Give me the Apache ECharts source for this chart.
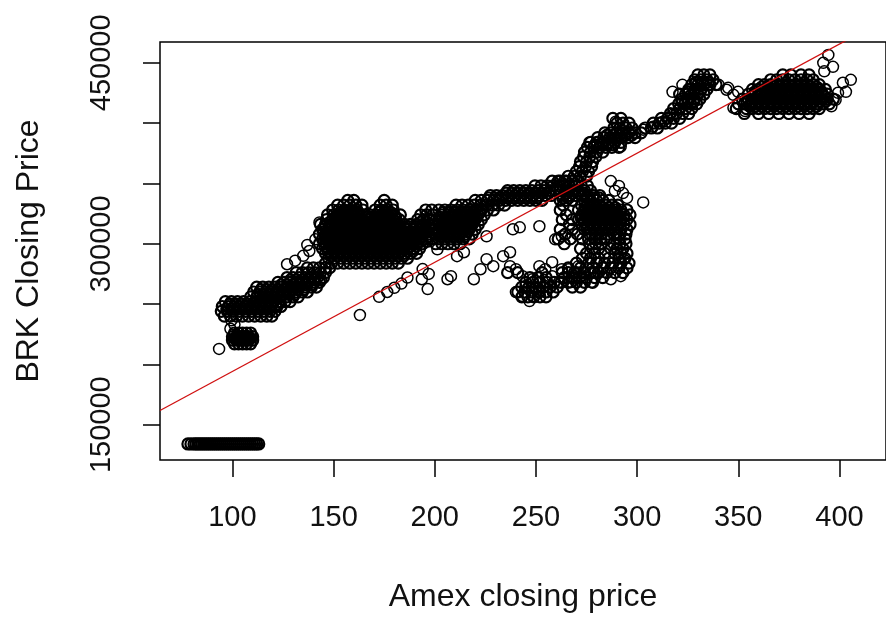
<!DOCTYPE html>
<html>
<head>
<meta charset="utf-8">
<script src="https://cdn.jsdelivr.net/npm/echarts@6/dist/echarts.min.js"></script>
<style>
html,body{margin:0;padding:0;background:#fff;}
#chart{width:886px;height:618px;}
</style>
</head>
<body>
<div id="chart"></div>
<script>
// ---- DATA (Amex closing price vs BRK closing price) ----
// rows: [BRK price, Amex price, Amex price, ...]
const bottomRows = [
  [134000, 78, 79.5, 81, 82, 83, 84, 85, 86, 87, 88, 89, 90, 91, 92, 93, 94, 95, 96, 97, 98, 99, 100, 101, 102, 103, 104, 105, 106, 107, 108, 109, 110, 111, 112, 113]
];
const lowClusterRows = [
  [226000, 101, 103, 105, 107, 109],
  [223000, 100, 102, 104, 106, 108, 110],
  [221500, 101, 103, 105, 107, 109],
  [220000, 100, 102, 104, 106, 108, 110],
  [217000, 101, 103, 105, 107, 109]
];
const earlyBandRows = [
  [240000, 96, 99, 102, 105, 108, 111, 114, 117, 119.5],
  [244000, 94.5, 97.5, 100.5, 103.5, 106.5, 109.5, 112.5, 115.5, 118.5, 121],
  [246000, 97.2, 100.2, 103.2, 106.2, 109.2, 112.2, 115.2, 118.2],
  [248000, 95, 98, 101, 104, 107, 110, 113, 116, 119, 122, 124],
  [250000, 98.7, 101.7, 104.7, 107.7, 110.7, 113.7, 116.7, 119.7, 122.7],
  [252000, 96.5, 99.5, 102.5, 105.5, 108.5, 111.5, 114.5, 117.5, 120.5, 123.5, 126, 128.5],
  [256000, 109, 112, 115, 118, 121, 124, 127, 130, 132.5],
  [258000, 112.7, 115.7, 118.7, 121.7, 124.7, 127.7, 130.7],
  [260000, 110.5, 113.5, 116.5, 119.5, 122.5, 125.5, 128.5, 131.5, 134.5, 137],
  [262000, 114.2, 117.2, 120.2, 123.2, 126.2, 129.2, 132.2, 135.2],
  [264000, 112, 115, 118, 121, 124, 127, 130, 133, 136, 139, 141.5],
  [266000, 124.2, 127.2, 130.2, 133.2, 136.2, 139.2],
  [268000, 122.5, 125.5, 128.5, 131.5, 134.5, 137.5, 140.5, 143],
  [270000, 128.7, 131.7, 134.7, 137.7, 140.7, 143.7],
  [272000, 127, 130, 133, 136, 139, 142, 145],
  [276000, 131.5, 134.5, 137.5, 140.5, 143.5, 146],
  [280000, 137, 140, 143, 146, 148]
];
const mainBlobRows = [
  [284000, 146, 149, 152, 155, 158, 161, 164, 167, 170, 173, 176, 179, 182],
  [288000, 147.5, 150.5, 153.5, 156.5, 159.5, 162.5, 165.5, 168.5, 171.5, 174.5, 177.5, 180.5, 183.5, 186.5],
  [290000, 148.7, 151.7, 154.7, 157.7, 160.7, 163.7, 166.7, 169.7, 172.7, 175.7, 178.7, 181.7, 184.7],
  [292000, 146, 149, 152, 155, 158, 161, 164, 167, 170, 173, 176, 179, 182, 185, 188, 191],
  [294000, 147.2, 150.2, 153.2, 156.2, 159.2, 162.2, 165.2, 168.2, 171.2, 174.2, 177.2, 180.2, 183.2, 186.2, 189.2],
  [296000, 144.5, 147.5, 150.5, 153.5, 156.5, 159.5, 162.5, 165.5, 168.5, 171.5, 174.5, 177.5, 180.5, 183.5, 186.5, 189.5, 192.5],
  [298000, 145.7, 148.7, 151.7, 154.7, 157.7, 160.7, 163.7, 166.7, 169.7, 172.7, 175.7, 178.7, 181.7, 184.7, 187.7, 190.7],
  [300000, 143, 146, 149, 152, 155, 158, 161, 164, 167, 170, 173, 176, 179, 182, 185, 188, 191, 194],
  [302000, 145.2, 148.2, 151.2, 154.2, 157.2, 160.2, 163.2, 166.2, 169.2, 172.2, 175.2, 178.2, 181.2, 184.2, 187.2, 190.2, 193.2, 196.2],
  [304000, 144.5, 147.5, 150.5, 153.5, 156.5, 159.5, 162.5, 165.5, 168.5, 171.5, 174.5, 177.5, 180.5, 183.5, 186.5, 189.5, 192.5, 195.5, 198.5],
  [306000, 145.7, 148.7, 151.7, 154.7, 157.7, 160.7, 163.7, 166.7, 169.7, 172.7, 175.7, 178.7, 181.7, 184.7, 187.7, 190.7, 193.7, 196.7],
  [308000, 143, 146, 149, 152, 155, 158, 161, 164, 167, 170, 173, 176, 179, 182, 185, 188, 191, 194, 197, 200],
  [310000, 145.2, 148.2, 151.2, 154.2, 157.2, 160.2, 163.2, 166.2, 169.2, 172.2, 175.2, 178.2, 181.2, 184.2, 187.2, 190.2, 193.2, 196.2],
  [312000, 144.5, 147.5, 150.5, 153.5, 156.5, 159.5, 162.5, 165.5, 168.5, 171.5, 174.5, 177.5, 180.5, 183.5, 186.5, 189.5, 192.5, 195.5, 198.5],
  [314000, 145.7, 148.7, 151.7, 154.7, 157.7, 160.7, 163.7, 166.7, 169.7, 172.7, 175.7, 178.7, 181.7, 184.7, 187.7, 190.7, 193.7, 196.7],
  [316000, 143.5, 146, 149, 152, 155, 158, 161, 164, 167, 170, 173, 176, 179, 182, 185, 188, 191, 194, 197, 200],
  [318000, 148.2, 151.2, 154.2, 157.2, 160.2, 163.2, 166.2, 169.2, 172.2, 175.2, 178.2, 181.2, 193.2, 196.2],
  [320000, 146.5, 149.5, 152.5, 155.5, 158.5, 161.5, 164.5, 167.5, 170.5, 173.5, 176.5, 179.5, 182.5, 191.5, 194.5, 197.5],
  [322000, 150.7, 153.7, 156.7, 159.7, 162.7, 165.7, 168.7, 171.7, 174.7, 177.7, 180.7],
  [324000, 147, 150, 153, 156, 159, 162, 165, 168, 171, 174, 177, 180, 183, 193, 196, 199],
  [326000, 153.2, 156.2, 159.2, 162.2, 172.2, 175.2, 178.2],
  [328000, 149.5, 152.5, 155.5, 158.5, 161.5, 164.5, 170.5, 173.5, 176.5, 179.5, 195.5, 198.5],
  [332000, 152, 155, 158, 161, 164, 173, 176, 179],
  [336000, 157, 160, 175]
];
const midBandRows = [
  [300000, 200.5, 203.5, 206.5, 209.5, 212.5],
  [304000, 199, 202, 205, 208, 211, 214, 217],
  [306000, 202.7, 205.7, 208.7, 211.7, 214.7],
  [308000, 200.5, 203.5, 206.5, 209.5, 212.5, 215.5, 218.5],
  [310000, 201.2, 204.2, 207.2, 210.2, 213.2, 216.2],
  [312000, 202, 205, 208, 211, 214, 217, 220],
  [314000, 202.7, 205.7, 208.7, 211.7, 214.7, 217.7],
  [316000, 203.5, 206.5, 209.5, 212.5, 215.5, 218.5, 221.5],
  [318000, 204.2, 207.2, 210.2, 213.2, 216.2, 219.2],
  [320000, 202, 205, 208, 211, 214, 217, 220, 223],
  [322000, 202.7, 205.7, 208.7, 211.7, 214.7, 217.7, 220.7],
  [324000, 203.5, 206.5, 209.5, 212.5, 215.5, 218.5, 221.5, 224.5],
  [326000, 204.2, 207.2, 210.2, 213.2, 216.2, 219.2, 222.2],
  [328000, 202, 205, 208, 211, 214, 217, 220, 223, 226, 229],
  [332000, 210.5, 213.5, 216.5, 219.5, 222.5, 225.5, 228.5, 231.5, 234.5],
  [336000, 220, 223, 226, 229, 232, 235, 238, 241, 244, 247, 250, 253],
  [338000, 226.7, 229.7, 232.7, 235.7, 238.7, 241.7, 244.7, 247.7, 250.7],
  [340000, 227.5, 230.5, 233.5, 236.5, 239.5, 242.5, 245.5, 248.5, 251.5, 254.5, 257.5],
  [342000, 235.2, 238.2, 241.2, 244.2, 247.2, 250.2, 253.2, 256.2],
  [344000, 236, 239, 242, 245, 248, 251, 254, 257, 260],
  [348000, 249.5, 252.5, 255.5, 258.5, 261.5],
  [352000, 258, 261, 264]
];
const lowerClusterRows = [
  [256000, 243, 246, 249, 252, 255],
  [260000, 241, 244.5, 248, 251.5, 255, 258.5],
  [264000, 243, 246.5, 250, 253.5, 257, 260.5, 268, 272],
  [268000, 245, 248.5, 252, 255.5, 259, 262.5, 266, 270, 274, 278],
  [272000, 247, 251, 255, 264, 268, 271.5, 275, 279, 283],
  [276000, 236, 241, 253, 266, 270, 273.5, 277, 281]
];
const rightClusterRows = [
  [356000, 266, 269, 272, 275],
  [352000, 262, 265, 268, 271],
  [348000, 263.5, 266.5, 269.5, 272.5, 275.5],
  [344000, 262, 265, 268, 271, 274, 277],
  [342000, 264.7, 267.7, 270.7, 273.7],
  [340000, 263.5, 266.5, 269.5, 272.5, 275.5, 278.5, 281.5],
  [338000, 263.2, 266.2, 275.2, 278.2, 281.2],
  [336000, 262, 265, 268, 274, 277, 280, 283, 286],
  [332000, 263.5, 272.5, 275.5, 278.5, 281.5, 284.5, 287.5, 290.5],
  [330000, 274.2, 277.2, 280.2, 283.2, 286.2, 289.2],
  [328000, 262, 271, 274, 277, 280, 283, 286, 289, 292, 295],
  [326000, 273.7, 276.7, 279.7, 282.7, 285.7, 288.7, 291.7],
  [324000, 265, 272.5, 275.5, 278.5, 281.5, 284.5, 287.5, 290.5, 293.5, 296.5],
  [322000, 272.2, 275.2, 278.2, 281.2, 284.2, 287.2, 290.2, 293.2],
  [320000, 263, 268, 271, 274, 277, 280, 283, 286, 289, 292, 295],
  [318000, 273.7, 276.7, 279.7, 282.7, 285.7, 288.7, 291.7],
  [316000, 266.5, 272.5, 275.5, 278.5, 281.5, 284.5, 287.5, 290.5, 293.5, 296.5],
  [314000, 275.2, 278.2, 281.2, 284.2, 287.2, 290.2],
  [312000, 262, 268, 274, 277, 280, 283, 286, 289, 292, 295],
  [308000, 264.5, 270.5, 276.5, 279.5, 282.5, 285.5, 288.5, 291.5, 294.5],
  [304000, 261, 267, 273, 276, 279, 282, 285, 291, 294],
  [300000, 264, 276.5, 279.5, 282.5, 288.5, 291.5, 294.5],
  [296000, 272, 278, 281, 287, 290, 293],
  [292000, 275, 279, 284, 289, 292, 295],
  [288000, 273, 277, 281, 286, 291, 294],
  [284000, 270, 276, 280, 284, 288, 292, 296],
  [280000, 266, 272, 278, 283, 287, 291, 295],
  [276000, 263, 269, 274, 279, 285, 289, 293]
];
const riseRows = [
  [360000, 270, 273, 276],
  [364000, 271.5, 274.5, 277.5],
  [368000, 272, 275, 278],
  [372000, 273.5, 276.5, 279.5],
  [376000, 274, 277, 280, 283],
  [380000, 275.5, 278.5, 281.5, 284.5, 287.5, 291],
  [382000, 279.2, 282.2, 285.2, 288.2],
  [384000, 277, 280, 283, 286, 289, 292],
  [388000, 280.5, 283.5, 286.5, 289.5, 292.5, 295.5, 299],
  [390000, 285.2, 288.2, 291.2, 294.2, 297.2],
  [392000, 284, 287, 290, 293, 296, 299, 302],
  [396000, 288.5, 291.5, 294.5, 297.5, 304, 307, 310],
  [400000, 290, 293, 296, 308, 311, 314, 317],
  [404000, 288, 292, 312, 315, 318, 321],
  [408000, 316.5, 319.5, 322.5, 325.5],
  [412000, 318, 321, 324, 327],
  [416000, 320.5, 323.5, 326.5, 329.5],
  [418000, 322.2, 325.2, 328.2],
  [420000, 322, 325, 328, 331],
  [424000, 321, 324, 327, 330, 333],
  [426000, 325.2, 328.2, 331.2],
  [428000, 325.5, 328.5, 331.5, 334.5],
  [432000, 327, 330, 333, 336, 339],
  [434000, 329.2, 332.2, 335.2],
  [436000, 328.5, 331.5, 334.5, 337.5],
  [440000, 330, 333, 336]
];
const topBlobRows = [
  [440000, 372, 376, 381, 385],
  [436000, 366, 369, 372, 375, 378, 381, 384, 387],
  [432000, 360, 363, 366, 369, 372, 375, 378, 381, 384, 387, 390],
  [430000, 361.7, 364.7, 367.7, 370.7, 373.7, 376.7, 379.7, 382.7, 385.7, 388.7],
  [428000, 357, 360, 363, 366, 369, 372, 375, 378, 381, 384, 387, 390, 393],
  [426000, 358.2, 361.2, 364.2, 367.2, 370.2, 373.2, 376.2, 379.2, 382.2, 385.2, 388.2, 391.2],
  [424000, 355, 358, 361, 364, 367, 370, 373, 376, 379, 382, 385, 388, 391, 394],
  [422000, 356.7, 359.7, 362.7, 365.7, 368.7, 371.7, 374.7, 377.7, 380.7, 383.7, 386.7, 389.7, 392.7],
  [420000, 352, 355, 358, 361, 364, 367, 370, 373, 376, 379, 382, 385, 388, 391, 394, 397],
  [418000, 354.2, 357.2, 360.2, 363.2, 366.2, 369.2, 372.2, 375.2, 378.2, 381.2, 384.2, 387.2, 390.2, 393.2],
  [416000, 350, 353, 356, 359, 362, 365, 368, 371, 374, 377, 380, 383, 386, 389, 392, 395],
  [414000, 355.7, 358.7, 361.7, 364.7, 367.7, 370.7, 373.7, 376.7, 379.7, 382.7, 385.7, 388.7],
  [412000, 349, 354, 357, 360, 363, 366, 369, 372, 375, 378, 381, 384, 387, 390],
  [408000, 353, 360, 365, 370, 375, 380, 385]
];
// loose single observations: [Amex, BRK]
const loosePoints = [
  [93.4, 212800], [99, 229500], [101, 233000], [99.5, 236500],
  [127, 283000], [131, 286000], [135, 290000], [138, 294000], [137, 299000], [141, 303700], [143, 317700],
  [163, 240900], [172.5, 256000], [176.5, 260000], [180, 263500], [183.5, 267000], [186.5, 272000],
  [193.6, 270600], [196.5, 262400], [194, 279000], [197, 275000], [201.3, 295400],
  [206.3, 270600], [208, 273100], [211, 289700], [214.4, 293000], [225.6, 306200], [225.6, 287200],
  [222.6, 278900], [219.3, 270600], [228.9, 281400], [233.8, 289700], [237.2, 293000], [238.6, 312000],
  [242, 313600], [251.7, 314500], [237.2, 281400], [240.1, 278900], [243.4, 273100], [240.1, 259900],
  [244.9, 264900], [248.3, 256600], [251.7, 259900], [251.7, 281400], [254.6, 278900], [258, 273100],
  [261.4, 268200], [266.2, 278900], [267.6, 268200], [272.5, 273100], [277.3, 268200], [280.7, 276500],
  [287, 270600], [291.9, 273100], [293.3, 287200], [290.4, 295400], [248.3, 270600], [254.6, 264900],
  [243.4, 256600], [246.8, 252500], [249.8, 262400], [258, 284700], [262.8, 278900], [271, 281400],
  [275.9, 278900], [303, 334300], [259.5, 303700], [262.8, 306200],
  [287, 352000], [291, 348000], [293, 342000], [289, 344000], [295, 338000],
  [276.4, 384000], [289.4, 401200], [296.7, 393000], [285.6, 383900], [291.9, 380600],
  [303, 394600], [307.8, 397100], [312.7, 401200], [317.5, 407000], [320.9, 411100],
  [317.5, 426000], [322.4, 431800], [340.3, 431800], [345, 429300], [349.9, 426000], [344.2, 427700],
  [347.6, 423500], [347.6, 412800], [353.4, 410000],
  [394.5, 456600], [392, 450000], [396.8, 446700], [392.5, 443000], [405.6, 435900], [401.7, 433500],
  [403.2, 426000], [399.3, 425200], [398.1, 419400], [396, 414000]
];
// fitted regression line BRK = intercept + slope * Amex
const fitIntercept = 103600;
const fitSlope = 905;
// axes
const xTicks = [100, 150, 200, 250, 300, 350, 400];
const yTicks = [150000, 200000, 250000, 300000, 350000, 400000, 450000];
const yTickLabels = [150000, 300000, 450000];
const xRange = [64.2, 423];
const yRange = [120700, 467300];

// ---- build ----
function rowsToPoints(rows) {
  const pts = [];
  rows.forEach(r => { for (let i = 1; i < r.length; i++) pts.push([r[i], r[0]]); });
  return pts;
}
const densePoints = [].concat(
  rowsToPoints(bottomRows), rowsToPoints(lowClusterRows), rowsToPoints(earlyBandRows),
  rowsToPoints(mainBlobRows), rowsToPoints(midBandRows), rowsToPoints(lowerClusterRows),
  rowsToPoints(rightClusterRows), rowsToPoints(riseRows), rowsToPoints(topBlobRows)
);
const fitLine = xRange.map(x => [x, fitIntercept + fitSlope * x]);

const FONT = "'Liberation Sans', Arial, sans-serif";
const chart = echarts.init(document.getElementById('chart'), null, {renderer: 'canvas'});
chart.setOption({
  animation: false,
  backgroundColor: '#fff',
  grid: {left: 160, top: 42, right: -12, bottom: 156.5, show: true, borderColor: '#000', borderWidth: 1.5, backgroundColor: 'transparent'},
  xAxis: {
    type: 'value', min: xRange[0], max: xRange[1],
    name: 'Amex closing price', nameLocation: 'middle', nameGap: 121,
    nameTextStyle: {fontFamily: FONT, fontSize: 32, color: '#111'},
    axisLine: {show: false},
    axisTick: {show: true, length: 17, customValues: xTicks, lineStyle: {color: '#000', width: 1.5}},
    axisLabel: {customValues: xTicks, margin: 43, fontFamily: FONT, fontSize: 29, color: '#111', formatter: v => String(v)},
    splitLine: {show: false}
  },
  yAxis: {
    type: 'value', min: yRange[0], max: yRange[1],
    name: 'BRK Closing Price', nameLocation: 'middle', nameGap: 115,
    nameTextStyle: {fontFamily: FONT, fontSize: 32, color: '#111'},
    axisLine: {show: false},
    axisTick: {show: true, length: 17, customValues: yTicks, lineStyle: {color: '#000', width: 1.5}},
    axisLabel: {customValues: yTickLabels, rotate: 90, margin: 44, fontFamily: FONT, fontSize: 29, color: '#111', formatter: v => String(v)},
    splitLine: {show: false}
  },
  series: [
    {
      type: 'scatter', data: densePoints, symbol: 'circle', symbolSize: 11,
      itemStyle: {color: 'rgba(0,0,0,0)', borderColor: '#000', borderWidth: 2.2, opacity: 1},
      emphasis: {disabled: true}, z: 2, silent: true
    },
    {
      type: 'scatter', data: loosePoints, symbol: 'circle', symbolSize: 11,
      itemStyle: {color: 'rgba(0,0,0,0)', borderColor: '#000', borderWidth: 1.5, opacity: 1},
      emphasis: {disabled: true}, z: 2, silent: true
    },
    {
      type: 'line', data: fitLine, symbol: 'none', clip: true,
      lineStyle: {color: '#d01010', width: 1.3}, z: 3, silent: true
    }
  ]
});
</script>
</body>
</html>
